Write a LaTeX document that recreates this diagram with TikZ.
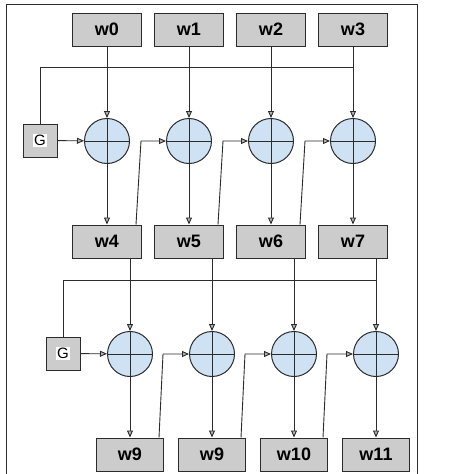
\documentclass[tikz,border=0pt]{standalone}
\usepackage{fontspec}
\setmainfont{Liberation Sans}
\usetikzlibrary{calc,arrows.meta,positioning}
\definecolor{boxgray}{HTML}{CCCCCC}
\definecolor{sumblue}{HTML}{CFE2F3}
\definecolor{linegray}{HTML}{2B2B2B}
\setlength{\fboxsep}{1pt}

\begin{document}
\begin{tikzpicture}[x=1pt,y=-1pt,
	word/.style={draw=linegray,line width=1pt,fill=boxgray,minimum width=69pt,minimum height=33pt,inner sep=0pt,font=\fontsize{18}{20}\selectfont\bfseries},
	gen/.style={draw=linegray,line width=1pt,fill=boxgray,minimum width=34pt,minimum height=33pt,inner sep=0pt,font=\fontsize{15}{17}\selectfont},
	xor/.style={circle,draw=linegray,line width=1pt,fill=sumblue,minimum size=45pt,inner sep=0pt,
		path picture={\draw[linegray,line width=1pt] (path picture bounding box.north) -- (path picture bounding box.south) (path picture bounding box.west) -- (path picture bounding box.east);}},
	feed/.style={draw=linegray,line width=0.9pt,-{Triangle[length=7pt,width=6pt,fill=gray!60]}},
	bus/.style={draw=linegray,line width=0.9pt}]
				\useasboundingbox (0,0) rectangle (474,474);
				\draw[linegray,line width=1pt] (6,474) |- (417,4) -- (417,474);
				% words and adders
				\foreach \i/\txt in {0/w0,1/w1,2/w2,3/w3} {
					\node[word] (t\i) at (107+82*\i,29.5) {\txt};
					\node[xor] (a\i) at (107+82*\i,141) {};
				};
				\foreach \i/\txt in {0/w4,1/w5,2/w6,3/w7} {
					\node[word] (m\i) at (107+82*\i,241.5) {\txt};
					\node[xor] (c\i) at (130+82*\i,354) {};
				};
				\foreach \i/\txt in {0/w9,1/w9,2/w10,3/w11} {
					\node[word,minimum width=67pt] (b\i) at (130+82*\i,454.5) {\txt};
				};
				\node[gen] (g1) at (40,140.5) {\colorbox{white}{G}};
				\node[gen] (g2) at (63,353.5) {\colorbox{white}{G}};
				% straight paths
				\foreach \i in {0,...,3} {
					\draw[feed] (t\i) -- (a\i);
					\draw[feed] (a\i) -- (m\i);
					\draw[feed] (m\i.south -| c\i.north) -- (c\i);
					\draw[feed] (c\i) -- (b\i);
				};
				\draw[feed] (g1) -- (a0);
				\draw[feed] (g2) -- (c0);
				% feedback into the next adder
				\foreach \i/\j in {0/1,1/2,2/3} {
					\draw[feed] ($(m\i.north east)+(-6,0)$) -- ($(m\i.north east |- a\j.west)+(-1,0)$) -- (a\j.west);
					\draw[feed] ($(b\i.north east)+(-5,0)$) -- ($(b\i.north east |- c\j.west)+(-1,0)$) -- (c\j.west);
				};
				% buses to G
				\coordinate (bus1) at ($(t3.south)+(0,21)$);
				\coordinate (bus2) at ($(m3.south -| c3.north)+(0,22)$);
				\draw[bus] (g1.north) |- (bus1);
				\draw[bus] (g2.north) |- (bus2);
			\end{tikzpicture}
\end{document}
